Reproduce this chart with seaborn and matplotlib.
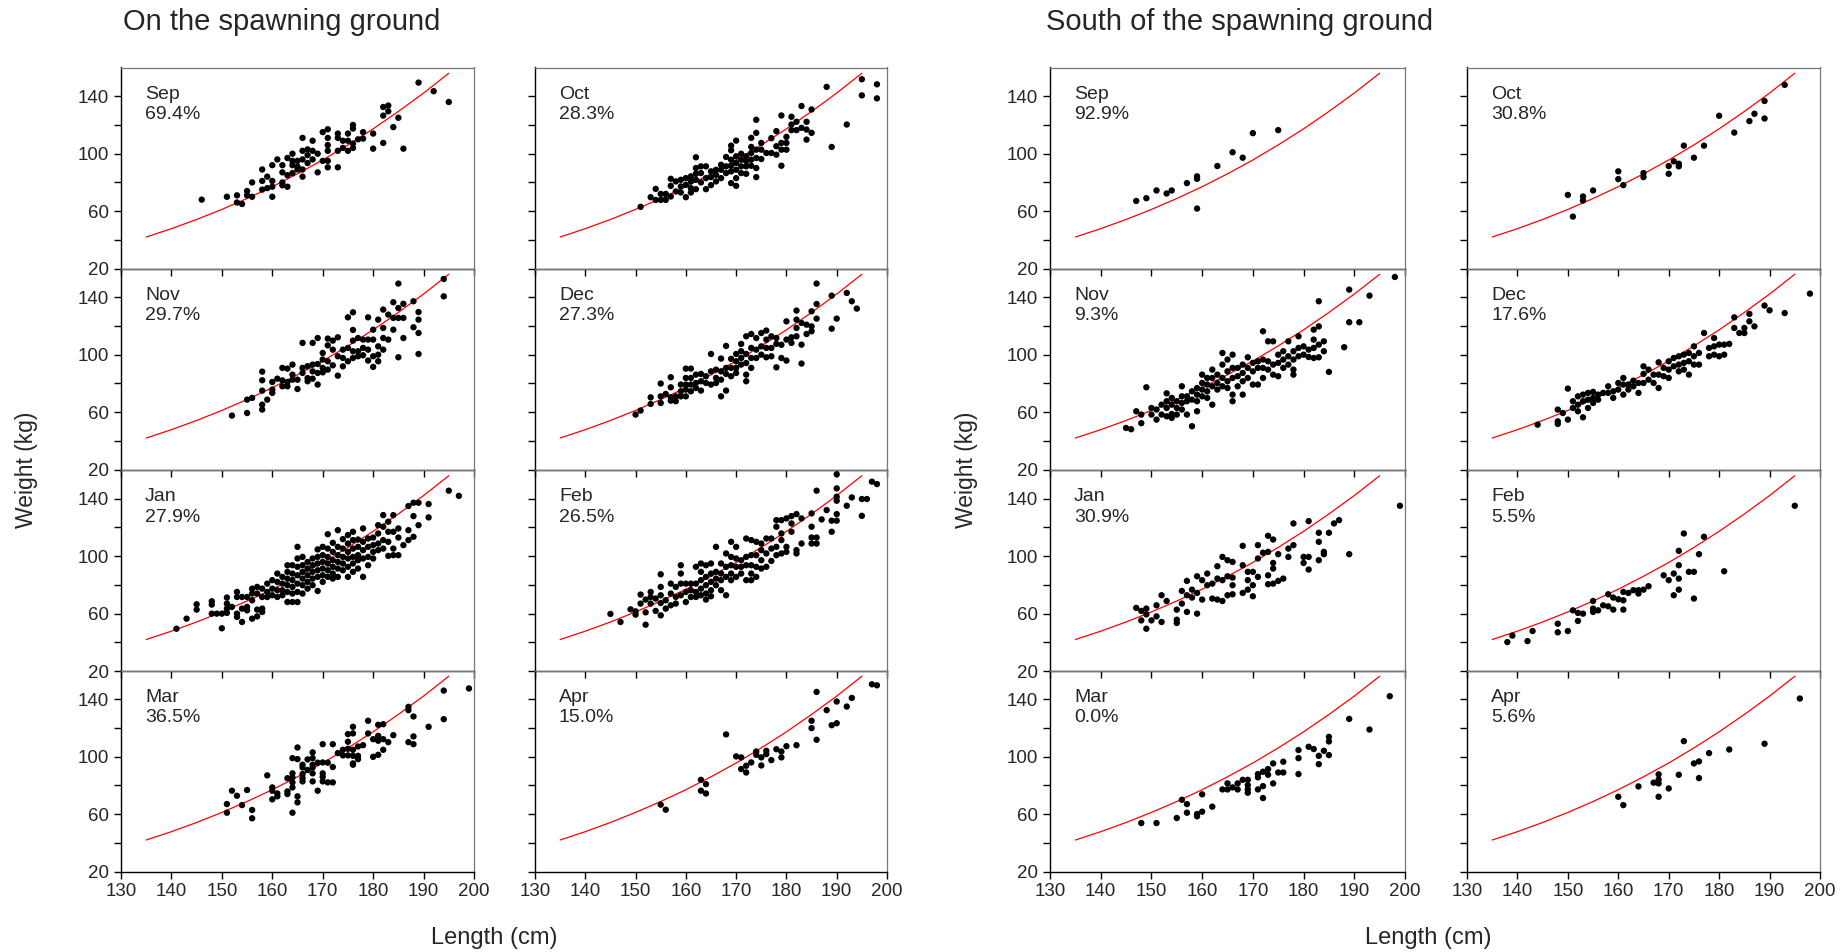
import matplotlib
matplotlib.use("Agg")
import matplotlib.pyplot as plt
import seaborn as sns
import pandas as pd
from matplotlib.ticker import FixedLocator

sns.set_style("ticks")
plt.rcParams['font.family'] = ['Liberation Sans', 'DejaVu Sans']

# ---------------- data (length cm -> list of weights kg) ----------------
months = ["Sep", "Oct", "Nov", "Dec", "Jan", "Feb", "Mar", "Apr"]
on_pct = ["69.4%", "28.3%", "29.7%", "27.3%", "27.9%", "26.5%", "36.5%", "15.0%"]
so_pct = ["92.9%", "30.8%", "9.3%", "17.6%", "30.9%", "5.5%", "0.0%", "5.6%"]

curve_len = [135, 140, 145, 150, 155, 160, 165, 170, 175, 180, 185, 190, 195]
curve_wt = [42.0, 47.8, 54.2, 61.2, 68.8, 77.0, 86.0, 95.6, 106.1, 117.3, 129.4, 142.2, 156.0]

on_sep = {146: [68], 151: [70], 153: [71, 66], 154: [65], 155: [74, 71], 156: [80, 70],
          158: [89, 81, 75], 159: [84, 76], 160: [92, 81, 77, 70], 161: [96],
          162: [92, 87, 80, 78], 163: [97, 85, 77], 164: [100, 95, 92, 86.5], 165: [95, 91, 89],
          166: [111, 102, 96, 89, 84], 167: [103, 99, 93.5], 168: [109, 102, 96], 169: [100, 87],
          170: [115, 95], 171: [117, 111, 106, 102, 95, 90.5], 173: [114, 111, 102, 90.5],
          174: [109, 104], 175: [114, 109, 102], 176: [120, 117.5, 107, 104], 177: [110],
          178: [115, 110.5], 180: [114, 103.5], 182: [132.5, 126.5, 107.5], 183: [133.5, 129.5],
          184: [118.5], 185: [125], 186: [103.5], 189: [149.5], 192: [143.5], 195: [136]}

on_oct = {151: [63], 153: [69.7], 154: [75.5, 67.8], 155: [72, 67.8], 156: [72, 67.8],
          157: [82.5, 77.6, 70.2], 158: [80.7, 73.7], 159: [81.8, 77.2, 73], 160: [83, 78.3, 69.7],
          161: [84.2, 80.7, 76, 73], 162: [97.5, 90, 86, 81.8, 75.3], 163: [91.2, 86.5, 80],
          164: [91.2, 83, 75.3], 165: [87.7, 83.7, 78.1], 166: [88.8, 85.3, 80.7],
          167: [92.3, 88.8, 83], 168: [97.7, 91.2, 86.5], 169: [105.6, 102.4, 95.8, 91.6, 87.7, 79.5],
          170: [109.1, 98.2, 93.5, 88.8, 83, 77.6], 171: [100, 95.8, 91.2, 86.5],
          172: [98.2, 94.7, 91.2, 86], 173: [111, 104.7, 100.5, 95.8, 91.6],
          174: [123.6, 114.5, 102.8, 97, 90, 83.7], 175: [107.5, 102.8, 96.3], 176: [100.5],
          177: [110.8, 100.5], 178: [115.7, 105.2, 99.3], 179: [126.6, 107.5, 102.8, 91.6],
          180: [111.7, 107.5, 102.8], 181: [125.7, 120.3, 116.4], 182: [122.2, 116.4],
          183: [133.2, 118], 184: [122.2, 116.8, 109.8], 185: [130.8, 114.5], 188: [146.5],
          189: [104.7], 192: [120.3], 195: [151.8, 140.6], 198: [148.3, 138.5]}

on_nov = {152: [57.6], 155: [68.7, 59.4], 156: [69.9], 158: [88.2, 82.2, 75, 65.2, 61.8],
          159: [68.7], 160: [81, 75.7, 73.4], 161: [83.3], 162: [90.8, 82.1, 78],
          163: [90.3, 81, 78], 164: [93.1, 86.1, 82.6], 165: [82.6, 76.1], 166: [108.2, 90.8, 87.3],
          167: [92, 83.7, 81.5], 168: [108.2, 93.1, 88.4, 83.3], 169: [111.6, 93.5, 87.3, 79.2],
          170: [101.2, 96.6, 90.8, 87.7], 171: [111.2, 106.5, 95.4, 89.6], 172: [109.8, 103.5, 92.6],
          173: [112.1, 98.9, 85.4], 174: [103.5, 97.7, 91.9], 175: [126, 104.7, 95.4],
          176: [129.5, 117.2, 109.8, 102.4, 97.7], 177: [111.6, 102.4, 98.9],
          178: [110.5, 104.7, 99.6], 179: [126, 110.5, 103.5, 95.9], 180: [117.4, 110.5, 98.9, 91.5],
          181: [124.4, 105.8, 100, 95.4], 182: [131.4, 118.6, 111.6, 103.5], 183: [127.9, 110.5],
          184: [136.5, 125.6, 117.4], 185: [149.5, 132.5, 125.6, 98.2], 186: [135.4, 125.6, 111.6],
          188: [137.2, 119.1], 189: [129.7, 124.4, 115.1, 100.5], 194: [152.7, 140.6]}

on_dec = {150: [58.3], 151: [61.1], 153: [70.3, 65.7], 155: [79.9, 71, 66.4], 156: [72.7],
          157: [84.3, 77.3, 70.3, 68], 158: [71, 67.6], 159: [79.2, 74.5, 71],
          160: [90.3, 83.8, 79.2, 75.7, 71], 161: [90.3, 83.8, 79.2, 74.5], 162: [86.1, 80.3, 76.8],
          163: [86.6, 81.5, 75], 164: [85, 80.3], 165: [100.5, 88.4, 79.2], 166: [89.6, 83.8, 80.3],
          167: [97.3, 88.4, 82.6, 71], 168: [106.1, 90.8, 86.6, 75], 169: [97.1, 90.8, 85],
          170: [100.5, 95.4, 90.8, 87.3], 171: [107.5, 102.4, 97.7, 93.1],
          172: [112.8, 100.5, 94.2, 86.1, 81.5], 173: [114.4, 104.7, 97.7, 90.8],
          174: [111.6, 103.5, 97.7], 175: [115.1, 105.8, 100], 176: [116.8, 110.5, 104.7, 98.2],
          177: [112.8, 104.7, 98.9], 178: [111.6, 107.5, 91.2], 179: [106.9, 97.7],
          180: [123.2, 110.5, 95.9], 181: [112.1, 108.2], 182: [130.7, 124.4, 118.6, 112.8],
          183: [122.1, 107, 93.8], 184: [120.9, 114.4], 185: [130.2, 119.7, 116.3],
          186: [149.5, 135.3, 125.1], 189: [141.1, 118.1], 190: [125.1], 192: [143],
          193: [137.2], 194: [132.1]}

on_jan = {141: [49.5], 143: [56.5], 145: [66.5, 62.8], 148: [68.6, 66.3, 60], 149: [60],
          150: [60, 49.8], 151: [71.2, 67, 63.5, 60.5], 152: [64.7], 153: [75.1, 71.6, 60, 57.7],
          154: [71.6, 63.5, 54.2], 155: [71.6, 64.7, 62.3], 156: [77.4, 74, 69.3, 56.5],
          157: [78.6, 74, 62.8, 58.1], 158: [77.4, 71.6, 63.5, 61.2], 159: [80.9, 75.1, 71.6],
          160: [83.3, 77.4, 72.8], 161: [87.9, 82.1, 76.3, 71.6], 162: [85.6, 80.9, 76.3, 72.8],
          163: [93.7, 89.1, 84.4, 79.8, 75.1, 68.1], 164: [93.7, 87.9, 83.3, 78.6, 74, 68.1],
          165: [106.5, 98.4, 92.6, 86.7, 80.9, 75.1, 68.1], 166: [99.5, 93.7, 89.1, 84.4, 79.8, 74],
          167: [96, 91.4, 86.7, 82.1, 77.4], 168: [98.4, 93.7, 89.1, 84.4, 79.8],
          169: [104.7, 99.5, 94.9, 90.2, 85.6, 75.8], 170: [106.5, 100.7, 96, 91.4, 86.7, 82.1],
          171: [115.3, 105.3, 99.5, 94.9, 90.2, 85.6], 172: [109.3, 103, 97.2, 92.6, 87.9, 84.4],
          173: [118.1, 106.5, 100.7, 96, 91.4, 85.6], 174: [111.9, 105.3, 99.5, 94.9, 90.2],
          175: [114.7, 108.8, 103, 98.4, 92.6, 85.6], 176: [117, 111.2, 105.3, 99.5, 94.9, 89.1],
          177: [111.6, 106.5, 100.7, 97.2, 91.4], 178: [119.3, 110, 104.2, 98.4, 85.6],
          179: [112.3, 106.5, 99.5, 93.7], 180: [113, 107.7, 103, 98.4],
          181: [121.6, 115.8, 108.8, 104.2], 182: [128.6, 120.5, 111.2, 105.3],
          183: [124, 117, 110, 100.2], 184: [128.6, 117, 105.3, 100.7], 185: [119.3, 113, 100.7],
          186: [107.7], 187: [134.9, 118.1, 111.2], 188: [137.2, 127.9, 113.5], 189: [137.2, 121.6],
          191: [136.3, 127], 195: [145.6], 197: [142]}

on_feb = {145: [59.8], 147: [54.2], 149: [63], 150: [61.6, 59.3], 151: [73.3, 67],
          152: [69.8, 60.9, 52.3], 153: [75.1, 71.6, 67], 154: [70.5, 61.9],
          155: [87.4, 78.6, 72.8, 67.4, 58.8], 156: [69.3, 63.5], 157: [80.9, 74, 65.8],
          158: [78.6, 71.6, 67], 159: [93.7, 87.9, 80.9, 72.8], 160: [80.9, 75.1, 68.1],
          161: [80.9, 76.3, 71.6], 162: [92.6, 80.9, 75.1, 71.6], 163: [94.9, 89.1, 83.3, 77.4, 72.8],
          164: [93.7, 85.6, 79.8, 74, 69.8], 165: [94.9, 87.9, 82.1, 76.3, 72.1],
          166: [106.5, 89.1, 84.4, 79.8], 167: [94.9, 87.9, 83.3, 76.3], 168: [101.9, 92.6, 85.6, 72.8],
          169: [110, 99.5, 93.7, 87.9, 83.3], 170: [106.5, 98.4, 92.6, 85.6], 171: [97.2, 92.6, 87.9],
          172: [112.3, 99.5, 93.7, 83.3], 173: [111.2, 100.7, 93.7, 87.9, 83.3],
          174: [110, 100.7, 92.6, 85.6], 175: [108.8, 104.2, 97.2, 91.4], 176: [112.3, 101.9, 92.6],
          177: [112.3, 105.3, 96.7], 178: [125.1, 120.5, 106.5, 100.7], 179: [125.1, 115.8, 111.2, 101.9],
          180: [126.3, 106.5, 103], 181: [127.9, 122.8, 117], 182: [129.3, 104.2, 101.9],
          183: [126.3, 108.8], 185: [129.8, 120.5, 113, 108.8], 186: [145.6, 113, 108.8], 187: [125.6],
          188: [132.1], 189: [124.7, 117], 190: [157, 147.2, 141.4, 138.6, 129.3, 124.7], 192: [135.1],
          193: [140.9], 195: [139.8, 128.1], 196: [139.8], 197: [151.9], 198: [150.2]}

on_mar = {151: [67, 61], 152: [76.3], 153: [72.8], 154: [66.3], 155: [76.8], 156: [62.9, 57.1],
          159: [87], 160: [78.6, 76.3, 70.3], 161: [74.4, 72.4], 163: [85, 75.8, 74],
          164: [99, 88.4, 85.6, 82.1, 78.6, 61], 165: [106.4, 98.3, 72.4, 68.2],
          166: [94.4, 92.5, 87.9, 85.1, 82.8], 167: [98.1, 90.7], 168: [103, 99, 94.4, 92.5, 88.4, 82.8],
          169: [95.8, 76.3], 170: [108.7, 96, 88.4, 86, 82.8], 171: [95.8, 82.1],
          172: [108.7, 92.8, 82.1], 173: [102.5], 174: [104.8, 100.9], 175: [115.7, 110.4, 105.5, 100.9],
          176: [120.8, 116.2, 104.8, 100.6, 95.3, 94.4], 177: [107.1, 100.6, 98.3], 178: [108],
          179: [125, 116.2], 180: [112.2, 99.9], 181: [122.2, 114.5, 111.1, 101.3],
          182: [122.6, 112.2, 104.8], 183: [110.1], 184: [115], 187: [134.7, 132.4, 110.1],
          188: [128, 114.1, 108.7], 191: [120.8], 194: [146, 126.1], 199: [147.5]}

on_apr = {155: [66.6], 156: [63.1], 163: [83.9, 76.3], 164: [80.9, 74.4], 168: [115.5], 170: [100.2],
          171: [99.5, 91.4], 172: [93.7, 89], 173: [96], 174: [103.6, 101.3], 175: [99.5, 93.9],
          176: [104.1, 101.8], 177: [97.6], 178: [105.2], 179: [103.6, 99.5], 180: [107.3], 182: [108],
          185: [125, 119.9], 186: [145.1, 111.8], 188: [132.4], 189: [121.9], 190: [138.4, 123.3],
          192: [134.9], 193: [140.9], 197: [150.4], 198: [149.7]}

so_sep = {147: [67.1], 149: [69], 151: [74.4], 153: [72.3], 154: [74.4], 157: [79.5],
          159: [84.2, 82.5, 61.8], 163: [91.4], 166: [101], 168: [97.2], 170: [114.3], 175: [116.4]}

so_oct = {150: [71.3], 151: [56.2], 153: [70.2, 67.4], 155: [74.4], 160: [87.7, 82.3], 161: [78.1],
          165: [86.5, 83.7], 170: [91.4, 86], 171: [94.7], 172: [93, 91.2], 173: [105.6], 175: [97.2],
          177: [105.6], 180: [126.4], 183: [114.7], 186: [122.7], 187: [127.8], 189: [136.7, 124.5],
          193: [147.9]}

so_nov = {145: [49], 146: [48.1], 147: [60.6], 148: [52.3, 58.3], 149: [77.3], 150: [62.9, 58.3],
          151: [61.8, 54.8], 152: [65.2, 58.3], 153: [73.1, 67.6, 62.9, 57.1], 154: [69.9, 65.2, 58.7, 56],
          155: [67.6, 62.9, 58.3], 156: [78, 71, 66.4, 61.8], 157: [71, 67.6, 58.3], 158: [74.5, 68.7, 50.2],
          159: [76.8, 72.2, 67.6, 60.6], 160: [86.1, 80.3, 75.7, 71], 161: [83.8, 79.2, 74.5, 69.9],
          162: [89.6, 83.8, 78, 65.2], 163: [86.1, 80.3, 75.7], 164: [101.2, 93.1, 83.8, 78],
          165: [96.6, 88.4, 81.5, 76.8], 166: [100, 90.8, 83.8, 72.2, 67.6], 167: [90.8, 85, 78],
          168: [93.1, 87.3, 81.5, 72.2], 169: [98.2, 90.8, 83.8], 170: [94.3, 88.4, 79.2],
          171: [95.4, 90.8, 79.2], 172: [116.3, 96.6, 90.8, 83.8], 173: [109.3, 95.4, 89.6],
          174: [109.3, 93.1, 86.1], 175: [100, 94.3, 85], 176: [102.4, 96.6, 90.8], 177: [109.3, 98.9, 93.1],
          178: [102.4, 96.6, 89.6, 86.1], 179: [112.8, 104.7, 98.9], 180: [105.8, 100], 181: [98.4, 103.5],
          182: [117.4, 110.5, 104.7, 97.7], 183: [137.2, 119.7, 107, 98.2], 184: [109.3, 102.4], 185: [88],
          188: [105.2], 189: [145.3, 122.6], 191: [122.6], 193: [141.1], 198: [154.1]}

so_dec = {144: [51.3], 148: [61.8, 53.6, 51.8], 149: [59.4], 150: [76.4, 54.8], 151: [62.9, 67.6],
          152: [71, 65.2, 60.6], 153: [72.2, 67.6, 56.4], 154: [73.4, 68.7, 62.9], 155: [74.1, 69.9, 66.4],
          156: [72.2, 68.7], 157: [73.4], 158: [78, 73.4], 159: [74.5, 69.9], 160: [80.3, 75.7],
          161: [83.8, 79.2, 72.2], 162: [79.2, 75.7], 163: [81.9, 78], 164: [80.3, 73.4],
          165: [91.9, 86.6, 80.3], 166: [89.6, 82.6], 167: [86.1, 80.3], 168: [94.7, 86.1, 76.8],
          169: [90.8, 85], 170: [95.4, 89.6, 83.8], 171: [97.7, 91.9], 172: [98.9, 93.1, 88.4],
          173: [100, 94.3, 89.6], 174: [101.2, 95.4, 86.1], 175: [105.8, 98.9, 93.1], 176: [101.2, 93.1],
          177: [115.1], 178: [104.7, 98.9], 179: [111.6, 105.8, 100], 180: [107, 98.9], 181: [100, 107],
          182: [107.5], 183: [126, 118.6], 184: [115.1], 185: [118.6, 115.1], 186: [128.4, 123.2],
          187: [119.7], 189: [134.2], 190: [130.9], 193: [129], 198: [142.5]}

so_jan = {147: [64], 148: [55.3, 61.9], 149: [63.5, 59.5, 49.5], 150: [55.3], 151: [65.8, 58.1],
          152: [72.8, 54.2], 153: [68.8], 155: [62.8, 55.8, 53.5], 156: [67, 75.8], 157: [82.8, 72.8, 61.2],
          158: [76.7, 71.2], 159: [86, 74.4, 60], 160: [83.3, 69.8], 161: [87.9, 79.8], 162: [80.9, 70.5],
          163: [93, 84.4, 69.8], 164: [99.5, 83.3, 68.8], 165: [97.2, 86, 72.8], 166: [96, 85.1, 79.8, 73.5],
          168: [107.2, 93.7, 74.4], 169: [89.1, 83.3, 76.7], 170: [89.1, 79.8, 72.1], 171: [107.7, 98.4, 85.6],
          172: [102.4], 173: [114.2, 103, 86.7, 80.5], 174: [111.6, 95.3, 91.4, 80.9], 175: [101.4, 82.8],
          176: [84.4], 177: [105.3, 99.5], 178: [107.7, 122.8], 180: [99.5, 95.3], 181: [124.4, 99.5, 90.7],
          183: [116.3, 110, 97.2], 184: [103, 101.4], 185: [116.3], 186: [122.8], 187: [125.1],
          189: [101.4], 199: [135.1]}

so_feb = {138: [40.2], 139: [44.7], 142: [40.9], 143: [47.9], 148: [53, 47], 150: [47.9], 151: [62.3],
          152: [60.5, 54.9], 153: [60], 155: [68.8, 63.5, 61.2], 156: [62.3], 157: [65.8], 158: [65.1, 73.5],
          159: [71.2, 62.8], 160: [70], 161: [69.3, 62.8, 75.1], 162: [74.4], 163: [76.3], 164: [76.3, 74],
          165: [76.7], 166: [79.1], 169: [86.7], 170: [83.3], 171: [87.9, 72.8], 172: [103.7, 93.7, 84.4, 76.7],
          173: [115.8], 174: [89.1], 175: [89.1, 70.5], 176: [101.4], 177: [113.5], 181: [89.5], 195: [135.1]}

so_mar = {148: [53.8], 151: [53.8], 155: [57.3], 156: [70], 157: [67, 61], 159: [60.1, 58.5],
          160: [61.7, 73.8], 162: [65.2], 164: [77.2], 165: [81.4, 77.2], 166: [78.6], 167: [81.4, 77.2],
          168: [83.9], 169: [83.9, 80.2, 77.2, 74.9], 171: [87.9, 85.6, 77.2], 172: [89.5, 79.5, 71.2],
          173: [91.4, 87.4], 174: [95.3, 81.4], 175: [89], 176: [89, 96.5], 179: [99, 104.6, 87.9],
          181: [106.9], 182: [105.3], 183: [100.6, 94.8], 184: [104.1], 185: [113.8, 110.6, 101.1],
          189: [126.3], 193: [118.9], 197: [142.1]}

so_apr = {160: [72.1], 161: [66.3], 164: [79.3], 167: [81.9], 168: [87.7, 84, 81.4, 72.1], 170: [77.9],
          172: [87.4], 173: [110.8], 175: [95.3], 176: [96.7, 85.1], 178: [102.5], 182: [105],
          189: [109], 196: [140.5]}

on_data = [on_sep, on_oct, on_nov, on_dec, on_jan, on_feb, on_mar, on_apr]
so_data = [so_sep, so_oct, so_nov, so_dec, so_jan, so_feb, so_mar, so_apr]


def frame(d):
    rows = [(L, w) for L, ws in d.items() for w in ws]
    return pd.DataFrame(rows, columns=["length", "weight"])


curve_df = pd.DataFrame({"length": curve_len, "weight": curve_wt})

# ---------------- layout ----------------
W, H = 1843, 952
fig = plt.figure(figsize=(W / 100, H / 100), dpi=100)
col_left = [121, 535, 1050, 1467]
col_w = [353, 352, 355, 353]
row_top = [67.5, 268.5, 470, 670.5]
row_h = 201.1

for g, (data, pcts) in enumerate([(on_data, on_pct), (so_data, so_pct)]):
    for i in range(8):
        r, c = i // 2, i % 2
        cc = g * 2 + c
        ax = fig.add_axes([col_left[cc] / W, 1 - (row_top[r] + row_h) / H,
                           col_w[cc] / W, row_h / H])
        ax.set_facecolor("none")
        sns.lineplot(data=curve_df, x="length", y="weight", ax=ax, color="red",
                     linewidth=0.9, estimator=None, sort=False, legend=False)
        sns.scatterplot(data=frame(data[i]), x="length", y="weight", ax=ax,
                        color="black", s=21, edgecolor="none", legend=False,
                        clip_on=False, zorder=3)
        ax.set_xlim(130, 200)
        ax.set_ylim(20, 160)
        ax.xaxis.set_major_locator(FixedLocator(list(range(130, 201, 10))))
        ax.yaxis.set_major_locator(FixedLocator([20, 60, 100, 140]))
        ax.yaxis.set_minor_locator(FixedLocator([40, 80, 120]))
        ax.tick_params(axis="both", which="both", direction="out", length=5,
                       width=1, labelsize=13.5, color="black")
        ax.set_xlabel("")
        ax.set_ylabel("")
        if r != 3:
            ax.tick_params(axis="x", labelbottom=False)
        if c != 0:
            ax.tick_params(axis="y", labelleft=False)
        for side in ["left", "bottom"]:
            ax.spines[side].set_color("black")
            ax.spines[side].set_linewidth(1.0)
        for side in ["top", "right"]:
            ax.spines[side].set_visible(True)
            ax.spines[side].set_color("#777777")
            ax.spines[side].set_linewidth(0.9)
        ax.text(0.068, 0.91, f"{months[i]}\n{pcts[i]}", transform=ax.transAxes,
                ha="left", va="top", fontsize=14, linespacing=1.3)

# ---------------- figure texts ----------------
fig.text(123 / W, 1 - 22.5 / H, "On the spawning ground", fontsize=21, ha="left", va="center")
fig.text(1046 / W, 1 - 22.5 / H, "South of the spawning ground", fontsize=21, ha="left", va="center")
for xl in [26, 966]:
    fig.text(xl / W, 1 - 470 / H, "Weight (kg)", rotation=90, fontsize=16.5, ha="center", va="center")
for xc in [494, 1428]:
    fig.text(xc / W, 1 - 938 / H, "Length (cm)", fontsize=17, ha="center", va="center")

fig.savefig("out.png", dpi=100, facecolor="white")
